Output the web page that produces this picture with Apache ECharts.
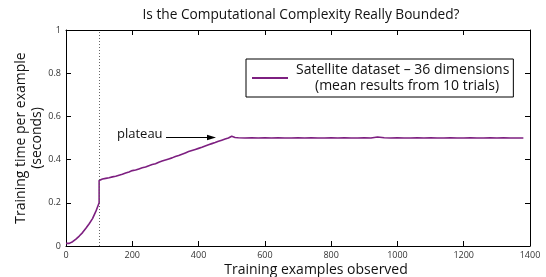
<!DOCTYPE html>
<html><head><meta charset="utf-8">
<script src="https://cdn.jsdelivr.net/npm/echarts@6/dist/echarts.min.js"></script>
<style>html,body{margin:0;padding:0;background:#fff}#c{width:546px;height:277px}</style>
</head><body><div id="c"></div>
<script>
var titleText = 'Is the Computational Complexity Really Bounded?';
var xName = 'Training examples observed';
var yName = 'Training time per example\n(seconds)';
var seriesName = 'Satellite dataset \u2013 36 dimensions';
var seriesNote = '(mean results from 10 trials)';
var annotationText = 'plateau';
var markerX = 100;
var xTicks = [0, 200, 400, 600, 800, 1000, 1200, 1400];
var yTicks = [0, 0.2, 0.4, 0.6, 0.8, 1];

// examples observed
var examples = [
  0, 5, 10, 20, 30, 40, 50, 60, 70, 80, 90, 100,
  100, 110, 120, 130, 140, 150, 160, 170, 180, 190, 200,
  210, 220, 230, 240, 250, 260, 270, 280, 290, 300,
  310, 320, 330, 340, 350, 360, 370, 380, 390, 400,
  410, 420, 430, 440, 450, 460, 470, 480, 490, 500,
  510, 520, 540, 560, 580, 600, 620, 640, 660, 680, 700,
  720, 740, 760, 780, 800, 820, 840, 860, 880, 900,
  920, 940, 960, 980, 1000, 1020, 1040, 1060, 1080, 1100,
  1120, 1140, 1160, 1180, 1200, 1220, 1240, 1260, 1280, 1300,
  1320, 1340, 1360, 1380
];
// training time per example (seconds)
var timePerExample = [
  0.012, 0.016, 0.012, 0.02, 0.032, 0.046, 0.062, 0.082, 0.103, 0.127, 0.16, 0.2,
  0.303, 0.31, 0.313, 0.316, 0.32, 0.323, 0.328, 0.332, 0.338, 0.343, 0.349,
  0.352, 0.357, 0.362, 0.366, 0.372, 0.377, 0.381, 0.388, 0.393, 0.398,
  0.403, 0.408, 0.414, 0.419, 0.425, 0.431, 0.437, 0.442, 0.447, 0.452,
  0.457, 0.463, 0.469, 0.474, 0.479, 0.485, 0.49, 0.495, 0.5, 0.508,
  0.502, 0.501, 0.5, 0.501, 0.5, 0.501, 0.5, 0.501, 0.5, 0.5, 0.501,
  0.5, 0.501, 0.5, 0.5, 0.501, 0.5, 0.501, 0.5, 0.5, 0.501,
  0.5, 0.505, 0.501, 0.5, 0.501, 0.5, 0.5, 0.501, 0.5, 0.501,
  0.5, 0.5, 0.501, 0.5, 0.5, 0.501, 0.5, 0.5, 0.501, 0.5,
  0.501, 0.5, 0.5, 0.5
];

var FONT = 'Open Sans';
var lineColor = '#7d1f80';
var pts = examples.map(function (x, i) { return [x, timePerExample[i]]; });

var chart = echarts.init(document.getElementById('c'), null, {renderer: 'canvas'});
var baseAxis = {
  axisLine: {show: true, onZero: false, lineStyle: {color: '#000', width: 1}},
  axisTick: {show: true, inside: true, length: 5, lineStyle: {color: '#000'}},
  splitLine: {show: false}
};
chart.setOption({
  animation: false,
  backgroundColor: '#fff',
  title: {text: titleText, left: 296, textAlign: 'center', top: 3,
    textStyle: {fontFamily: FONT, fontSize: 13.7, fontWeight: 'normal', color: '#111'}},
  grid: {left: 66, right: 16, top: 30, bottom: 31, containLabel: false, outerBoundsMode: 'none'},
  legend: {
    show: true, left: 246, top: 59, orient: 'vertical',
    borderColor: '#000', borderWidth: 1, padding: [4, 4, 4, 6], backgroundColor: '#fff',
    itemWidth: 36, itemHeight: 2, icon: 'rect',
    data: [seriesName],
    formatter: function (n) { return '{a|' + n + '}\n{b|' + seriesNote + '}'; },
    textStyle: {fontFamily: FONT, fontSize: 14, color: '#111',
      rich: {a: {fontFamily: FONT, fontSize: 14, lineHeight: 16, color: '#111', padding: [0, 0, 0, 3]},
             b: {fontFamily: FONT, fontSize: 14, lineHeight: 16, color: '#111', padding: [0, 0, 0, 22]}}}
  },
  xAxis: [
    Object.assign({}, baseAxis, {type: 'value', min: 0, max: 1400, interval: 200, position: 'bottom',
      name: xName, nameLocation: 'middle', nameGap: 17, nameMoveOverlap: false,
      nameTextStyle: {fontFamily: FONT, fontSize: 14, color: '#111', padding: [0, 0, 0, 36]},
      axisLabel: {fontFamily: FONT, fontSize: 9, color: '#333', margin: 5,
        formatter: function (v) { return xTicks.indexOf(v) >= 0 ? String(v) : ''; }}}),
    Object.assign({}, baseAxis, {type: 'value', min: 0, max: 1400, interval: 200, position: 'top',
      axisLabel: {show: false}})
  ],
  yAxis: [
    Object.assign({}, baseAxis, {type: 'value', min: 0, max: 1, interval: 0.2, position: 'left',
      name: yName, nameLocation: 'middle', nameGap: 21, nameMoveOverlap: false,
      nameTextStyle: {fontFamily: FONT, fontSize: 14, color: '#111', lineHeight: 16},
      axisLabel: {fontFamily: FONT, fontSize: 9, color: '#333', margin: 5,
        formatter: function (v) { var r = Math.round(v * 10) / 10; return yTicks.indexOf(r) >= 0 ? String(r) : ''; }}}),
    Object.assign({}, baseAxis, {type: 'value', min: 0, max: 1, interval: 0.2, position: 'right',
      axisLabel: {show: false}})
  ],
  series: [{
    name: seriesName, type: 'line', data: pts, showSymbol: false, symbol: 'none',
    lineStyle: {color: lineColor, width: 1.6}, itemStyle: {color: lineColor},
    markLine: {silent: true, symbol: 'none', label: {show: false},
      lineStyle: {color: '#666', type: [1, 2], width: 1},
      data: [{xAxis: markerX}]}
  }],
  graphic: [
    {type: 'text', left: 117, top: 128,
      style: {text: annotationText, fontFamily: FONT, fontSize: 13, fill: '#111'}},
    {type: 'line', shape: {x1: 166, y1: 137.5, x2: 213, y2: 137.5},
      style: {stroke: '#000', lineWidth: 1}},
    {type: 'polygon', shape: {points: [[216, 137.5], [207, 134.8], [207, 140.2]]},
      style: {fill: '#000'}}
  ]
});
</script></body></html>
